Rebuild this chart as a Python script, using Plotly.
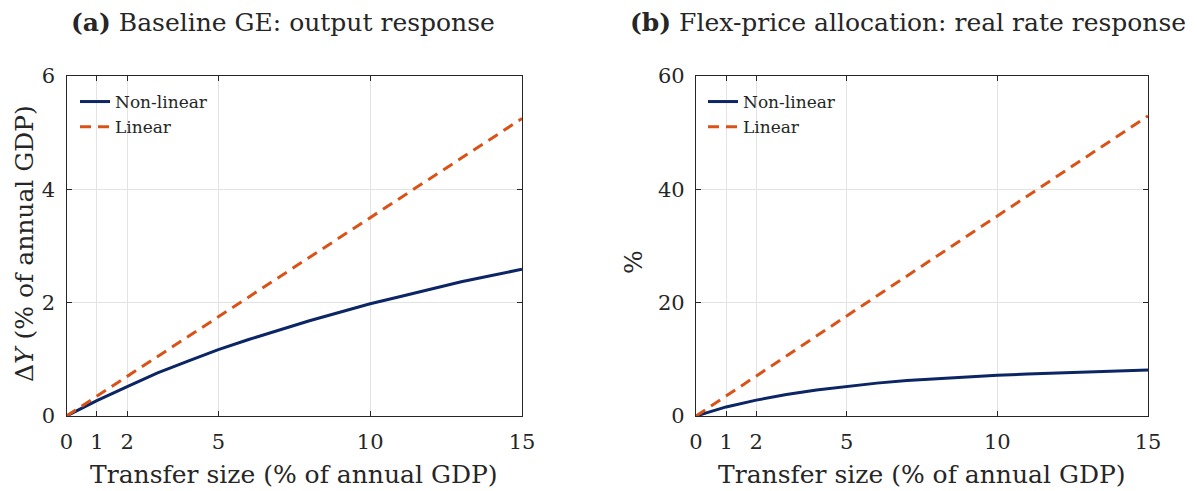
import plotly.graph_objects as go

# Transfer size grid (% of annual GDP)
transfer = [0, 1, 2, 3, 4, 5, 6, 7, 8, 9, 10, 11, 12, 13, 14, 15]

# Panel (a): output response, % of annual GDP
output_nonlinear = [0, 0.27, 0.52, 0.76, 0.97, 1.17, 1.35, 1.52, 1.68, 1.83,
                    1.98, 2.11, 2.24, 2.37, 2.48, 2.59]
output_linear = [0, 0.35, 0.70, 1.05, 1.40, 1.75, 2.10, 2.45, 2.80, 3.15,
                 3.50, 3.85, 4.20, 4.55, 4.90, 5.25]

# Panel (b): real rate response, %
rate_nonlinear = [0, 1.6, 2.8, 3.8, 4.6, 5.25, 5.8, 6.25, 6.6, 6.9,
                  7.2, 7.4, 7.6, 7.8, 7.95, 8.1]
rate_linear = [0, 3.53, 7.06, 10.59, 14.12, 17.65, 21.18, 24.71, 28.24, 31.77,
               35.3, 38.83, 42.36, 45.89, 49.42, 52.95]

x_ticks = [0, 1, 2, 5, 10, 15]
y_ticks_a = [0, 2, 4, 6]
y_ticks_b = [0, 20, 40, 60]

NAVY = "#0b2565"
ORANGE = "#d95319"
FONT = "DejaVu Serif"
TXT = "#262626"
W, H = 1197, 491

fig = go.Figure()

fig.add_trace(go.Scatter(x=transfer, y=output_nonlinear, mode="lines", name="Non-linear",
                         line=dict(color=NAVY, width=3), xaxis="x", yaxis="y", legend="legend"))
fig.add_trace(go.Scatter(x=transfer, y=output_linear, mode="lines", name="Linear",
                         line=dict(color=ORANGE, width=3, dash="11px,7px"), xaxis="x", yaxis="y",
                         legend="legend"))
fig.add_trace(go.Scatter(x=transfer, y=rate_nonlinear, mode="lines", name="Non-linear",
                         line=dict(color=NAVY, width=3), xaxis="x2", yaxis="y2", legend="legend2"))
fig.add_trace(go.Scatter(x=transfer, y=rate_linear, mode="lines", name="Linear",
                         line=dict(color=ORANGE, width=3, dash="11px,7px"), xaxis="x2", yaxis="y2",
                         legend="legend2"))

axis_common = dict(
    automargin=False,
    showline=True, linecolor=TXT, linewidth=1.3, mirror="ticks",
    ticks="inside", ticklen=5, tickwidth=1.2, tickcolor=TXT,
    showgrid=True, gridcolor="#e3e3e3", gridwidth=1,
    zeroline=False, tickfont=dict(family=FONT, size=21, color=TXT),
)

y_dom = [1 - 416 / H, 1 - 76 / H]

fig.update_layout(
    width=W, height=H,
    margin=dict(l=0, r=0, t=0, b=0),
    paper_bgcolor="white", plot_bgcolor="white",
    font=dict(family=FONT),
    showlegend=True,
    xaxis=dict(domain=[66.5 / W, 522 / W], range=[0, 15], tickvals=x_ticks, anchor="y",
               ticklabelstandoff=7, **axis_common),
    yaxis=dict(domain=y_dom, range=[0, 6], tickvals=y_ticks_a, anchor="x",
               ticklabelstandoff=6, **axis_common),
    xaxis2=dict(domain=[696 / W, 1148 / W], range=[0, 15], tickvals=x_ticks, anchor="y2",
                ticklabelstandoff=7, **axis_common),
    yaxis2=dict(domain=y_dom, range=[0, 60], tickvals=y_ticks_b, anchor="x2",
                ticklabelstandoff=6, **axis_common),
    legend=dict(x=75 / W, y=1 - 84 / H, xanchor="left", yanchor="top", bgcolor="rgba(0,0,0,0)",
                font=dict(family=FONT, size=17, color=TXT), tracegroupgap=0, itemwidth=30),
    legend2=dict(x=703 / W, y=1 - 84 / H, xanchor="left", yanchor="top", bgcolor="rgba(0,0,0,0)",
                 font=dict(family=FONT, size=17, color=TXT), tracegroupgap=0, itemwidth=30),
)


def label(text, x_px, y_px, size, angle=0):
    return dict(text=text, x=x_px / W, y=1 - y_px / H, textangle=angle,
                xref="paper", yref="paper", xanchor="center", yanchor="middle",
                showarrow=False, font=dict(family=FONT, size=size, color=TXT))


fig.update_layout(annotations=[
    label("<b>(a)</b> Baseline GE: output response", 283, 22, 25),
    label("<b>(b)</b> Flex-price allocation: real rate response", 908, 22, 25),
    label("Transfer size (% of annual GDP)", 294, 474, 25),
    label("Transfer size (% of annual GDP)", 922, 474, 25),
    label("\u0394<i>Y</i> (% of annual GDP)", 24, 244, 25, -90),
    label("%", 633, 262, 25, -90),
])

fig.write_html("out.html")
